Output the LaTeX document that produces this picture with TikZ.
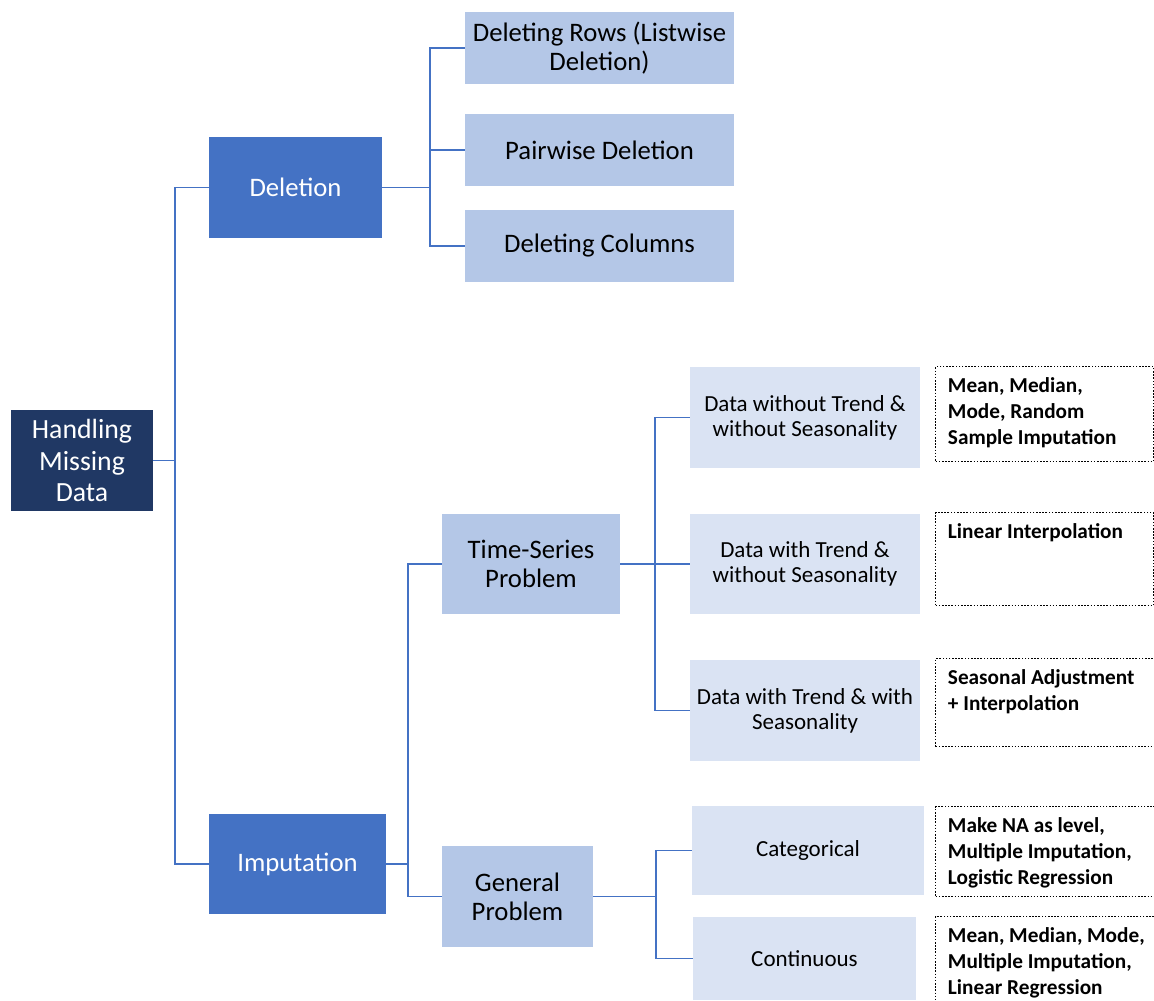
\documentclass[tikz,border=0pt]{standalone}
\usepackage{fontspec}
\setmainfont{Carlito}
\usepackage{xcolor}
\usepackage{tikz}
\usetikzlibrary{positioning}

\definecolor{navy}{HTML}{203864}
\definecolor{midblue}{HTML}{4472C4}
\definecolor{paleblue}{HTML}{B4C7E7}
\definecolor{iceblue}{HTML}{DAE3F3}

\begin{document}
\begin{tikzpicture}[
  x=0.02cm, y=-0.02cm,
  every node/.style={inner sep=2pt, align=center},
  root/.style={rectangle, fill=navy, text=white, font=\fontsize{15.8}{18}\selectfont},
  branch/.style={rectangle, fill=midblue, text=white, font=\fontsize{15.2}{18}\selectfont},
  leaf/.style={rectangle, fill=paleblue, text=black, font=\fontsize{15.2}{16.5}\selectfont},
  sub/.style={rectangle, fill=iceblue, text=black, font=\fontsize{13.1}{14.2}\selectfont},
  note/.style={draw, line width=0.75pt, dash pattern=on 0.9pt off 0.9pt, anchor=north west,
    inner xsep=7pt, inner ysep=6pt, align=left, font=\fontsize{12.1}{15}\selectfont\bfseries},
  link/.style={draw=midblue, line width=1.1pt}
]
\useasboundingbox (0,0) rectangle (1154,1001);

% level 0 and 1
\node[root, minimum width=2.84cm, minimum height=2.02cm] (hmd) at (82,460.5) {Handling\\Missing\\Data};
\node[branch, minimum width=3.46cm, minimum height=2.02cm] (del) at (295.5,187.5) {Deletion};
\node[branch, minimum width=3.54cm, minimum height=2.0cm] (imp) at (297.5,864) {Imputation};

% deletion side
\node[leaf, minimum width=5.38cm, minimum height=1.44cm] (rows) at (599.5,48) {Deleting Rows (Listwise\\Deletion)};
\node[leaf, minimum width=5.38cm, minimum height=1.44cm] (pair) at (599.5,150) {Pairwise Deletion};
\node[leaf, minimum width=5.38cm, minimum height=1.44cm] (cols) at (599.5,246) {Deleting Columns};

% imputation side
\node[leaf, minimum width=3.56cm, minimum height=2.0cm] (tsp) at (531,564) {Time-Series\\Problem};
\node[leaf, minimum width=3.02cm, minimum height=2.02cm] (gen) at (517.5,896.5) {General\\Problem};

\node[sub, minimum width=4.6cm, minimum height=2.02cm] (nonos) at (805,417.5) {Data without Trend \&\\without Seasonality};
\node[sub, minimum width=4.6cm, minimum height=2.0cm] (trnos) at (805,564) {Data with Trend \&\\without Seasonality};
\node[sub, minimum width=4.6cm, minimum height=2.02cm] (trsea) at (805,710.5) {Data with Trend \& with\\Seasonality};
\node[sub, minimum width=4.64cm, minimum height=1.78cm] (cat) at (808,850.5) {Categorical};
\node[sub, minimum width=4.46cm, minimum height=1.66cm] (cont) at (804.5,958.5) {Continuous};

% methods
\node[note] (m1) at (935,366) {\parbox[t][42pt][t]{110pt}{Mean, Median,\\Mode, Random\\Sample Imputation}};
\node[note] (m2) at (935,512) {\parbox[t][41pt][t]{110pt}{Linear Interpolation}};
\node[note] (m3) at (935,658) {\parbox[t][38pt][t]{111pt}{Seasonal Adjustment\\+ Interpolation}};
\node[note] (m4) at (935,806) {\parbox[t][39pt][t]{112pt}{Make NA as level,\\Multiple Imputation,\\Logistic Regression}};
\node[note] (m5) at (935,916) {\parbox[t][42pt][t]{112pt}{Mean, Median, Mode,\\Multiple Imputation,\\Linear Regression}};

% connectors
\draw[link] (hmd.east) -- ++(22,0) |- (del.west);
\draw[link] (hmd.east) -- ++(22,0) |- (imp.west);
\foreach \c in {rows,pair,cols}
  \draw[link] (del.east) -- ++(48,0) |- (\c.west);
\foreach \c in {tsp,gen}
  \draw[link] (imp.east) -- ++(22,0) |- (\c.west);
\foreach \c in {nonos,trnos,trsea}
  \draw[link] (tsp.east) -- ++(35,0) |- (\c.west);
\foreach \c in {cat,cont}
  \draw[link] (gen.east) -- ++(63,0) |- (\c.west);
\end{tikzpicture}
\end{document}
